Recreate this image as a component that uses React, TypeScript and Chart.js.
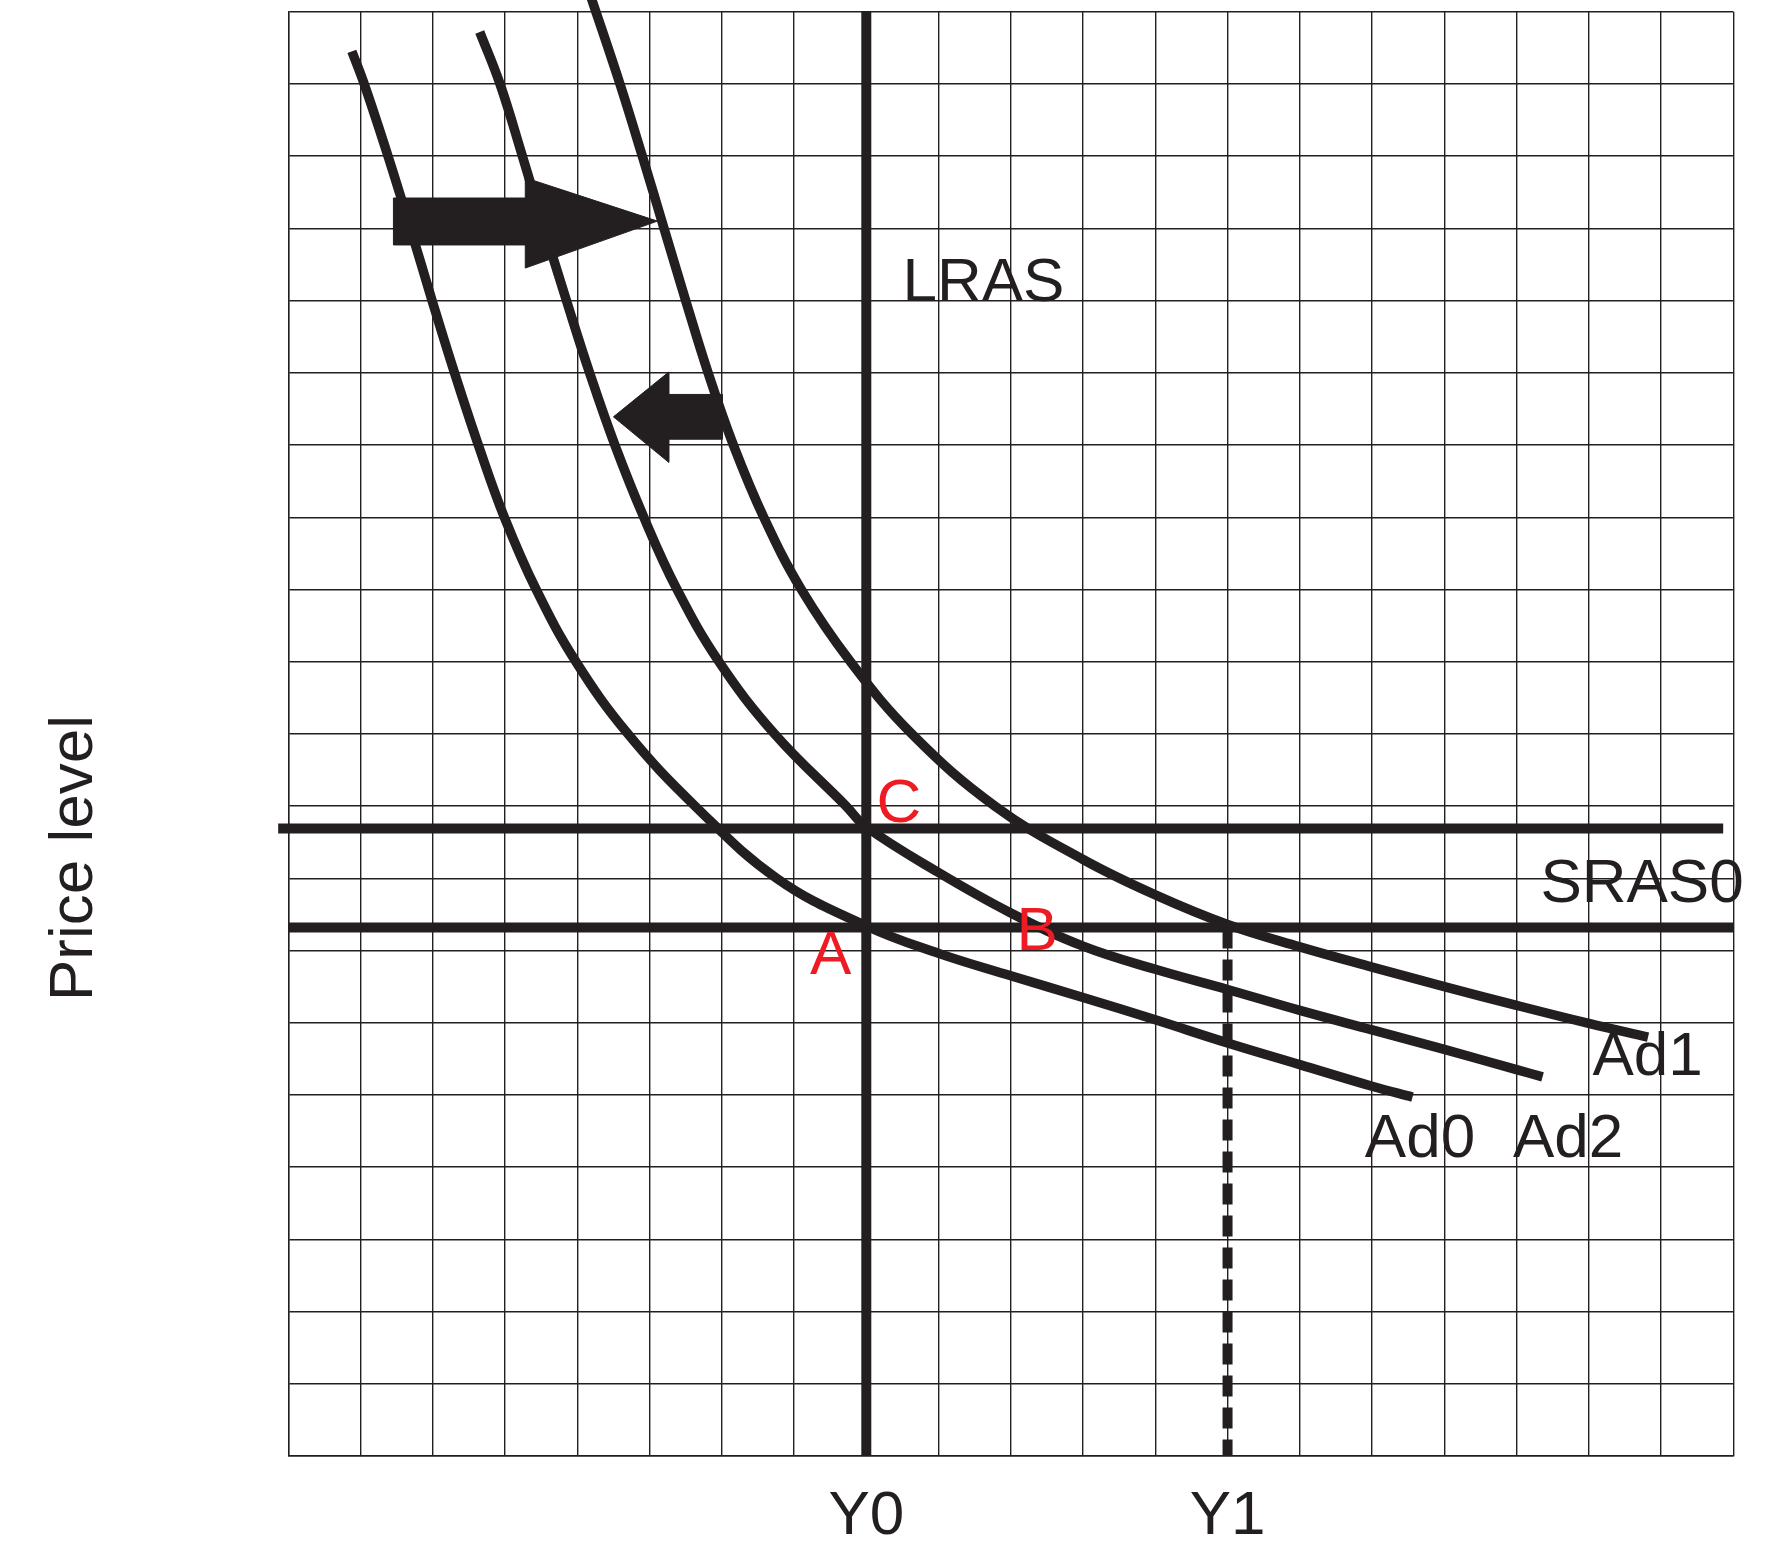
import React, { useEffect, useRef } from "react";
import { Chart, registerables } from "chart.js";

Chart.register(...registerables);

const INK = "#231f20";
const RED = "#ed1c24";
const FONT = '"Liberation Sans", Arial, Helvetica, sans-serif';

// Aggregate demand curves (x = output, y = price level, in grid units)
const ad0X = [0.88, 1.05, 1.38, 1.69, 1.99, 2.3, 2.63, 2.99, 3.43, 3.98, 4.7, 5.63, 6.76, 8.0, 9.0, 10.0, 11.0, 12.0, 13.0, 14.0, 15.0, 15.56];
const ad0Y = [19.45, 19.0, 18.0, 17.0, 16.0, 15.0, 14.0, 13.0, 12.0, 11.0, 10.0, 9.0, 8.0, 7.34, 6.96, 6.65, 6.35, 6.04, 5.72, 5.42, 5.12, 4.97];

const ad2X = [2.65, 2.93, 3.24, 3.54, 3.85, 4.17, 4.52, 4.92, 5.38, 5.96, 6.73, 7.72, 8.0, 9.0, 10.0, 11.0, 12.0, 13.0, 14.0, 15.0, 16.0, 17.0, 17.36];
const ad2Y = [19.72, 19.0, 18.0, 17.0, 16.0, 15.0, 14.0, 13.0, 12.0, 11.0, 10.0, 9.0, 8.71, 8.08, 7.52, 7.06, 6.74, 6.46, 6.17, 5.9, 5.63, 5.35, 5.25];

const ad1X = [4.19, 4.59, 4.9, 5.2, 5.5, 5.81, 6.16, 6.58, 7.1, 7.78, 8.63, 9.78, 11.0, 12.0, 13.0, 14.0, 15.0, 16.0, 17.0, 18.0, 18.82];
const ad1Y = [20.2, 19.0, 18.0, 17.0, 16.0, 15.0, 14.0, 13.0, 12.0, 11.0, 10.0, 9.0, 8.26, 7.77, 7.36, 7.05, 6.77, 6.5, 6.24, 5.99, 5.8];

// Supply lines
const lrasX = [8, 8];
const lrasY = [0, 20];
const sras1X = [-0.14, 19.86];
const sras1Y = [8.69, 8.69];
const sras0X = [0, 20];
const sras0Y = [7.32, 7.32];
const y1GuideX = [13, 13];
const y1GuideY = [7.32, 0];

// Shift arrows (polygon outlines)
const rightArrowX = [1.455, 3.28, 3.28, 5.11, 3.28, 3.28, 1.455, 1.455];
const rightArrowY = [17.42, 17.42, 17.7, 17.1, 16.45, 16.77, 16.77, 17.42];
const leftArrowX = [4.5, 5.265, 5.265, 6.005, 6.005, 5.265, 5.265, 4.5];
const leftArrowY = [14.39, 15.01, 14.7, 14.7, 14.08, 14.08, 13.76, 14.39];

// Axis tick labels
const tickValues = [8, 13];
const tickLabels = ["Y0", "Y1"];

// Text annotations
const noteTexts = ["LRAS", "SRAS0", "Ad1", "Ad0", "Ad2", "C", "A", "B"];
const noteX = [8.5, 17.33, 18.05, 14.9, 16.95, 8.14, 7.22, 10.08];
const noteY = [16.0, 7.67, 5.27, 4.14, 4.14, 8.78, 6.67, 7.0];
const noteRed = [false, false, false, false, false, true, true, true];

const yTitle = "Price level";
const yTitleAt = 8.28;

const pts = (xs: number[], ys: number[]) => xs.map((x, i) => ({ x, y: ys[i] }));

export default function App() {
  const ref = useRef<HTMLCanvasElement | null>(null);

  useEffect(() => {
    if (!ref.current) return;

    const textPlugin = {
      id: "textNotes",
      afterDatasetsDraw(chart: any) {
        const { ctx, scales, chartArea } = chart;
        const xs = scales.x;
        const ys = scales.y;
        ctx.save();
        ctx.font = `62px ${FONT}`;
        ctx.textAlign = "left";
        ctx.textBaseline = "alphabetic";
        noteTexts.forEach((t, i) => {
          ctx.fillStyle = noteRed[i] ? RED : INK;
          ctx.fillText(t, xs.getPixelForValue(noteX[i]), ys.getPixelForValue(noteY[i]));
        });
        ctx.fillStyle = INK;
        ctx.translate(chartArea.left - 196, ys.getPixelForValue(yTitleAt));
        ctx.rotate(-Math.PI / 2);
        ctx.textAlign = "center";
        ctx.fillText(yTitle, 0, 0);
        ctx.restore();
      },
    };

    const curve = (label: string, xs: number[], ys: number[]) => ({
      label,
      data: pts(xs, ys),
      showLine: true,
      borderColor: INK,
      borderWidth: 9.5,
      borderCapStyle: "butt" as const,
      borderJoinStyle: "round" as const,
      pointRadius: 0,
      tension: 0.4,
      capBezierPoints: false,
      fill: false,
      clip: false as any,
      order: 2,
    });

    const straight = (label: string, xs: number[], ys: number[], dash: number[] = []) => ({
      label,
      data: pts(xs, ys),
      showLine: true,
      borderColor: INK,
      borderWidth: 10,
      borderDash: dash,
      borderCapStyle: "butt" as const,
      pointRadius: 0,
      tension: 0,
      fill: false,
      clip: false as any,
      order: 3,
    });

    const arrow = (label: string, xs: number[], ys: number[]) => ({
      label,
      data: pts(xs, ys),
      showLine: true,
      borderColor: INK,
      borderWidth: 1,
      backgroundColor: INK,
      pointRadius: 0,
      tension: 0,
      fill: "shape" as any,
      clip: false as any,
      order: 1,
    });

    const chart = new Chart(ref.current, {
      type: "scatter",
      data: {
        datasets: [
          arrow("shift right", rightArrowX, rightArrowY),
          arrow("shift left", leftArrowX, leftArrowY),
          curve("Ad0", ad0X, ad0Y),
          curve("Ad2", ad2X, ad2Y),
          curve("Ad1", ad1X, ad1Y),
          straight("LRAS", lrasX, lrasY),
          straight("SRAS1", sras1X, sras1Y),
          straight("SRAS0", sras0X, sras0Y),
          straight("Y1", y1GuideX, y1GuideY, [21, 11]),
        ] as any,
      },
      options: {
        animation: false,
        responsive: false,
        devicePixelRatio: 1,
        events: [],
        layout: { padding: { top: 11.7, right: 53.7, left: 0, bottom: 0 } },
        plugins: {
          legend: { display: false },
          tooltip: { enabled: false },
          title: { display: false },
        },
        scales: {
          x: {
            type: "linear",
            min: 0,
            max: 20,
            afterFit: (s: any) => {
              s.height = 95;
            },
            grid: { color: INK, lineWidth: 1.4, drawTicks: false },
            border: { display: true, color: INK, width: 1.4 },
            ticks: {
              stepSize: 1,
              autoSkip: false,
              maxRotation: 0,
              minRotation: 0,
              padding: 24,
              color: INK,
              font: { family: FONT, size: 62 },
              callback: (v: any) => {
                const i = tickValues.indexOf(Number(v));
                return i >= 0 ? tickLabels[i] : "";
              },
            },
          },
          y: {
            type: "linear",
            min: 0,
            max: 20,
            afterFit: (s: any) => {
              s.width = 288.3;
            },
            grid: { color: INK, lineWidth: 1.4, drawTicks: false },
            border: { display: true, color: INK, width: 1.4 },
            ticks: { stepSize: 1, display: false },
          },
        },
      } as any,
      plugins: [textPlugin],
    });

    return () => chart.destroy();
  }, []);

  return (
    <div style={{ position: "absolute", left: 0, top: 0, width: 1787, height: 1551, background: "#fff" }}>
      <canvas ref={ref} width={1787} height={1551} style={{ display: "block", width: 1787, height: 1551 }} />
    </div>
  );
}
